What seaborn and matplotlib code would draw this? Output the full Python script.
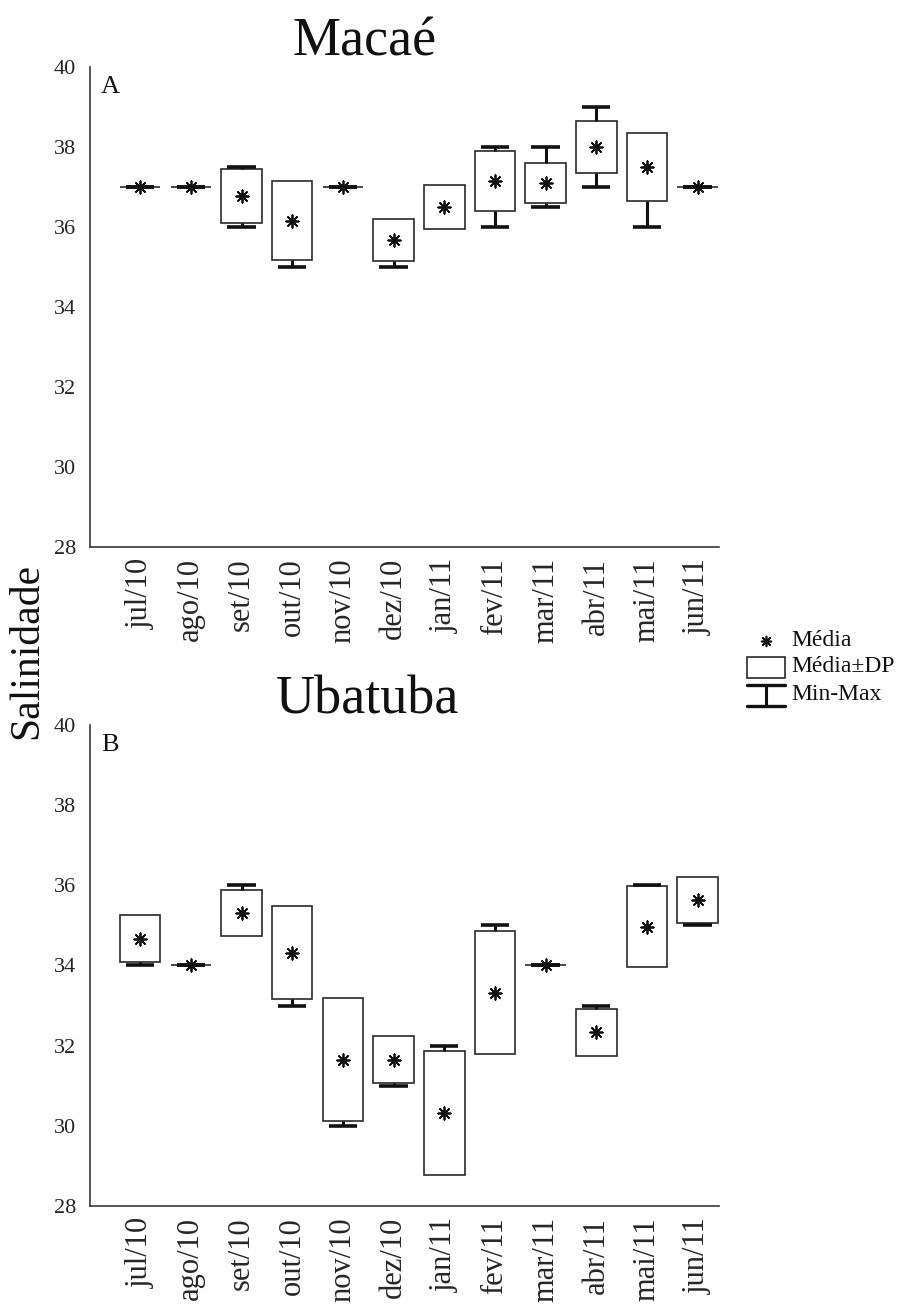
import numpy as np
import pandas as pd
import matplotlib
matplotlib.use("Agg")
import matplotlib.pyplot as plt
from matplotlib.patches import Rectangle
import seaborn as sns

# Monthly salinity summary (mean, standard deviation, min, max)
meses = ["jul/10", "ago/10", "set/10", "out/10", "nov/10", "dez/10",
         "jan/11", "fev/11", "mar/11", "abr/11", "mai/11", "jun/11"]

macae_media = [37.0, 37.0, 36.77, 36.16, 37.0, 35.67, 36.50, 37.16, 37.09, 38.0, 37.50, 37.0]
macae_dp    = [0.0, 0.0, 0.68, 0.98, 0.0, 0.52, 0.55, 0.75, 0.50, 0.64, 0.84, 0.0]
macae_min   = [37.0, 37.0, 36.0, 35.0, 37.0, 35.0, 36.0, 36.0, 36.5, 37.0, 36.0, 37.0]
macae_max   = [37.0, 37.0, 37.5, 37.0, 37.0, 36.0, 37.0, 38.0, 38.0, 39.0, 38.0, 37.0]

ubatuba_media = [34.67, 34.0, 35.31, 34.31, 31.65, 31.65, 30.32, 33.32, 34.0, 32.33, 34.97, 35.63]
ubatuba_dp    = [0.59, 0.0, 0.58, 1.16, 1.53, 0.58, 1.55, 1.53, 0.0, 0.58, 1.0, 0.58]
ubatuba_min   = [34.0, 34.0, 35.0, 33.0, 30.0, 31.0, 29.0, 32.0, 34.0, 32.0, 34.0, 35.0]
ubatuba_max   = [35.0, 34.0, 36.0, 35.0, 33.0, 32.0, 32.0, 35.0, 34.0, 33.0, 36.0, 36.0]

y_ticks = [28, 30, 32, 34, 36, 38, 40]

sns.set_style("white")
plt.rcParams["font.family"] = ["Liberation Serif", "DejaVu Serif"]

SPINE = "#3a3a3a"
INK = "#111111"
STAR = (8, 2, 0)

fig = plt.figure(figsize=(8.98, 13.04), dpi=100)
ax_top = fig.add_axes([0.1002, 0.5805, 0.7004, 0.3681])
ax_bot = fig.add_axes([0.1002, 0.0752, 0.7004, 0.3689])


def painel(ax, media, dp, vmin, vmax, letra):
    df = pd.DataFrame({"pos": np.arange(len(meses)), "mes": meses,
                       "media": media, "dp": dp, "min": vmin, "max": vmax})
    df["sup"] = df["media"] + df["dp"]
    df["inf"] = df["media"] - df["dp"]

    # Mean ± SD boxes
    ax.bar(df["pos"], 2 * df["dp"], bottom=df["inf"], width=0.8,
           facecolor="white", edgecolor="#2a2a2a", linewidth=1.2, zorder=2)

    # Min-Max whiskers outside the boxes
    cap = 0.28
    up = df[df["max"] >= df["sup"]]
    ax.vlines(up["pos"], up["sup"], up["max"], color=INK, lw=2.2, zorder=3)
    ax.hlines(up["max"], up["pos"] - cap, up["pos"] + cap, color=INK, lw=2.6, zorder=3)
    lo = df[df["min"] <= df["inf"]]
    ax.vlines(lo["pos"], lo["min"], lo["inf"], color=INK, lw=2.2, zorder=3)
    ax.hlines(lo["min"], lo["pos"] - cap, lo["pos"] + cap, color=INK, lw=2.6, zorder=3)

    # Means
    sns.scatterplot(data=df, x="pos", y="media", marker=STAR, s=80,
                    color=INK, linewidth=1.3, edgecolor=INK, ax=ax, zorder=4,
                    legend=False)

    ax.set_xlim(-0.99, 11.42)
    ax.set_ylim(28, 40)
    ax.set_xticks(df["pos"])
    ax.set_xticklabels(meses, rotation=90, fontsize=22)
    ax.set_yticks(y_ticks)
    ax.set_yticklabels([str(v) for v in y_ticks], fontsize=16)
    ax.set_xlabel("")
    ax.set_ylabel("")
    ax.tick_params(axis="x", direction="in", length=4, width=1, color=SPINE, pad=8)
    ax.tick_params(axis="y", direction="in", length=4, width=1, color=SPINE, pad=10)
    for s in ("top", "right"):
        ax.spines[s].set_visible(False)
    for s in ("left", "bottom"):
        ax.spines[s].set_color(SPINE)
        ax.spines[s].set_linewidth(1.2)
    ax.text(0.0175, 0.946, letra, transform=ax.transAxes, fontsize=19,
            ha="left", va="baseline", color=INK)


painel(ax_top, macae_media, macae_dp, macae_min, macae_max, "A")
painel(ax_bot, ubatuba_media, ubatuba_dp, ubatuba_min, ubatuba_max, "B")

fig.text(0.4065, 1 - 55 / 1304, "Macaé", fontsize=39, ha="center", va="baseline", color=INK)
fig.text(0.4090, 1 - 713 / 1304, "Ubatuba", fontsize=39, ha="center", va="baseline", color=INK)
fig.text(27.5 / 898, 1 - 651 / 1304, "Salinidade", fontsize=30, rotation=90,
         ha="center", va="center", color=INK)

# Legend drawn in figure pixel space
leg = fig.add_axes([0, 0, 1, 1], zorder=5)
leg.set_xlim(0, 898)
leg.set_ylim(1304, 0)
leg.axis("off")
leg.scatter([766], [641], marker=STAR, s=50, color=INK, linewidths=1.2)
leg.add_patch(Rectangle((747, 657), 38, 21, facecolor="white", edgecolor="#2a2a2a", lw=1.2))
leg.plot([747, 785], [685, 685], color=INK, lw=2.4)
leg.plot([766, 766], [685, 706], color=INK, lw=2.2)
leg.plot([747, 785], [706, 706], color=INK, lw=2.4)
for yy, txt in [(641, "Média"), (667, "Média±DP"), (695, "Min-Max")]:
    leg.text(791, yy, txt, fontsize=17, ha="left", va="center", color=INK)

fig.savefig("out.png", dpi=100, facecolor="white")
